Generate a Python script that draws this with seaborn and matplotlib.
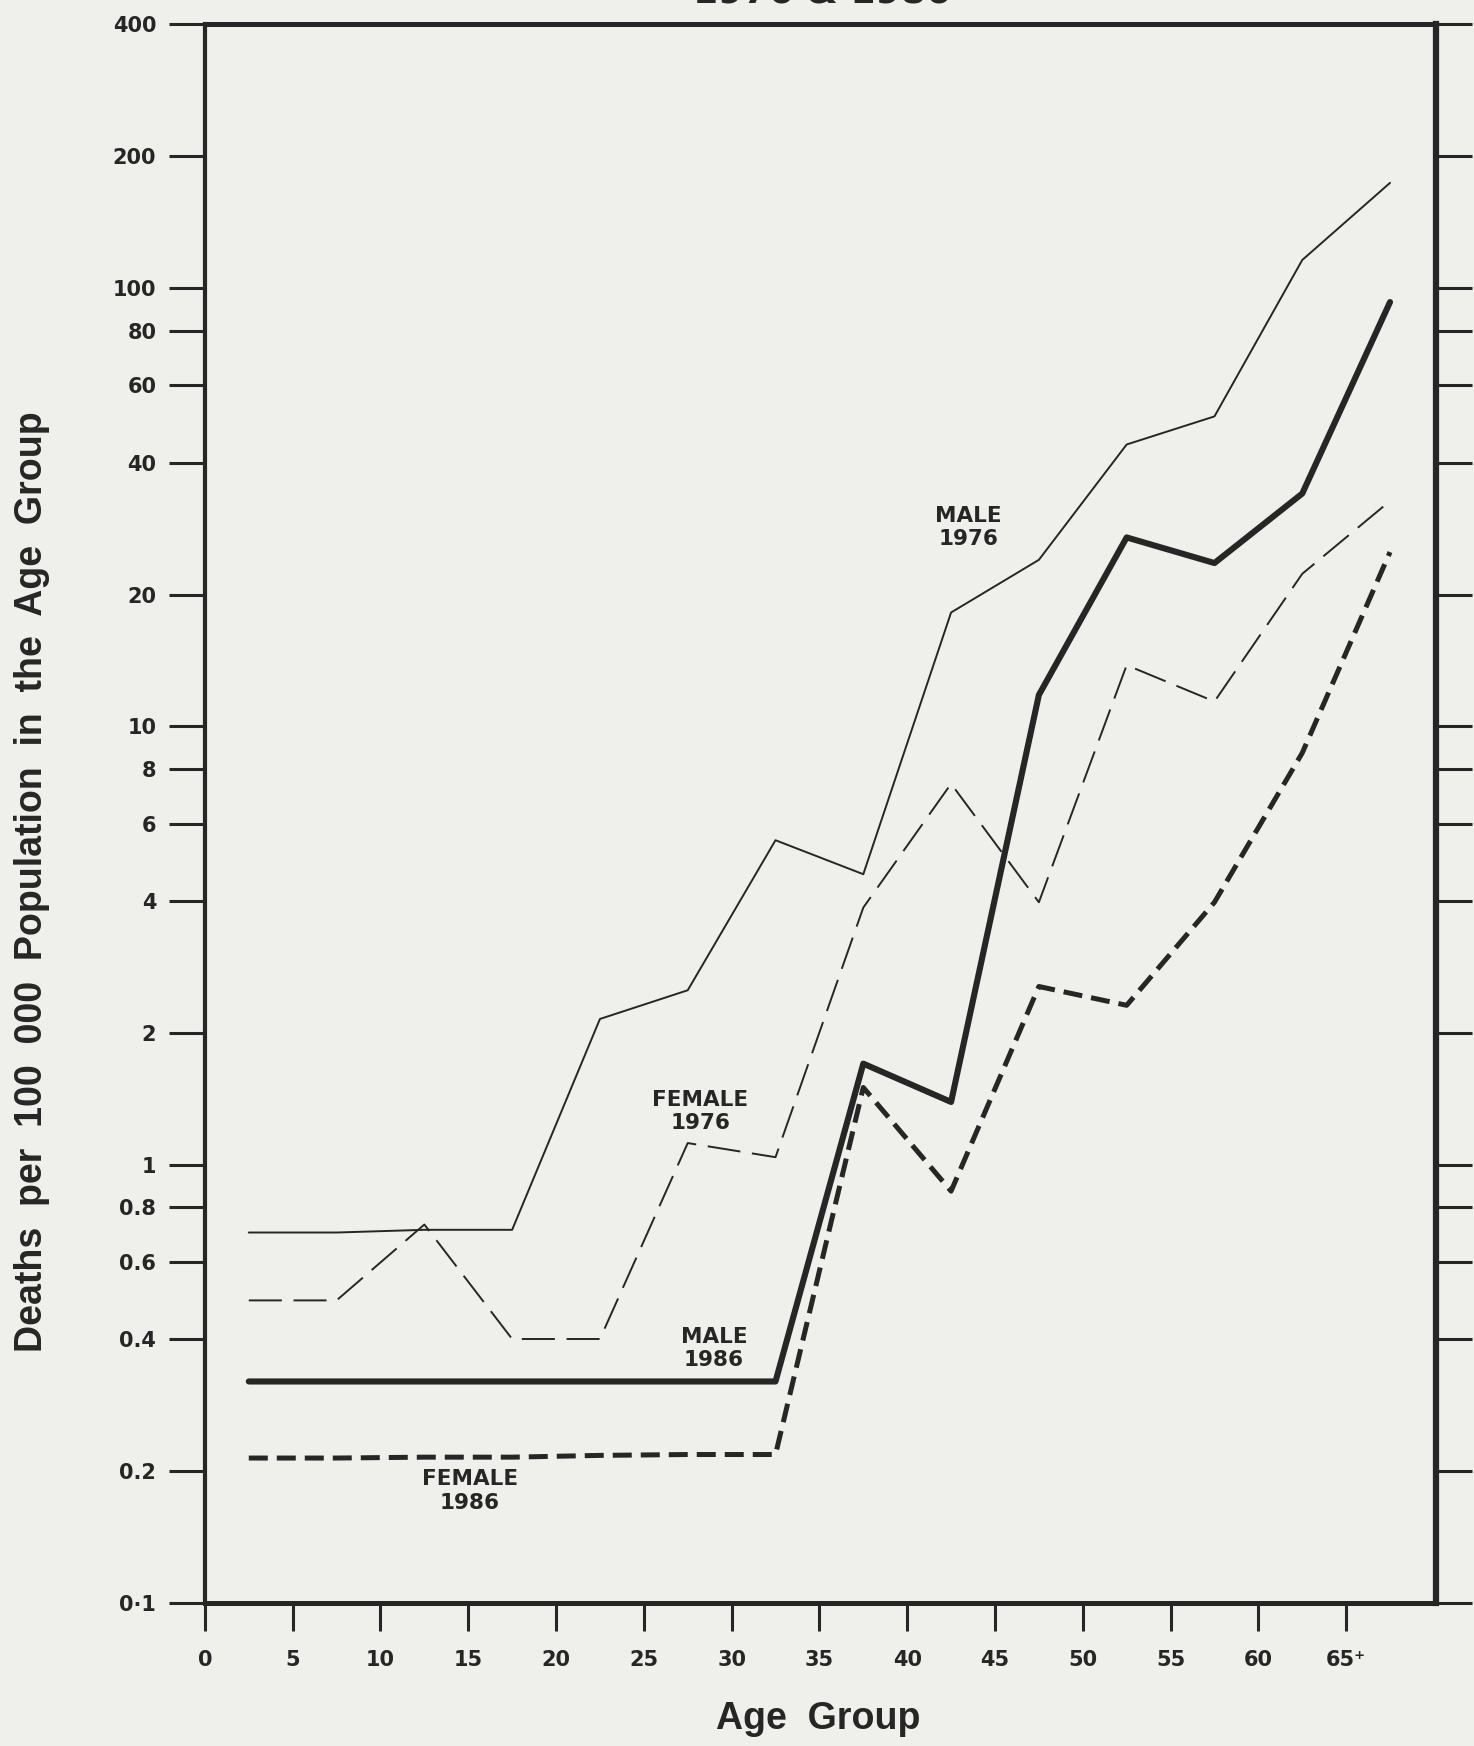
import numpy as np
import pandas as pd
import seaborn as sns
import matplotlib.pyplot as plt
from matplotlib.ticker import FixedLocator, NullLocator

# age groups plotted at mid-points of 5-year bands
age_mid = [2.5, 7.5, 12.5, 17.5, 22.5, 27.5, 32.5, 37.5, 42.5, 47.5, 52.5, 57.5, 62.5, 67.5]

male_1976 = [0.70, 0.70, 0.71, 0.71, 2.15, 2.5, 5.5, 4.6, 18.2, 24.0, 44, 51, 116, 174]
male_1986 = [0.32, 0.32, 0.32, 0.32, 0.32, 0.32, 0.32, 1.70, 1.39, 11.8, 27.0, 23.6, 34.0, 93]
female_1976 = [0.49, 0.49, 0.73, 0.40, 0.40, 1.12, 1.04, 3.86, 7.4, 3.97, 13.8, 11.4, 22.3, 32.7]
female_1986 = [0.214, 0.214, 0.215, 0.215, 0.217, 0.218, 0.218, 1.50, 0.87, 2.55, 2.31, 3.97, 8.7, 25.0]

y_ticks = [0.1, 0.2, 0.4, 0.6, 0.8, 1, 2, 4, 6, 8, 10, 20, 40, 60, 80, 100, 200, 400]
y_labels = ["0·1", "0.2", "0.4", "0.6", "0.8", "1", "2", "4", "6", "8", "10", "20", "40", "60", "80", "100", "200", "400"]
x_ticks = [0, 5, 10, 15, 20, 25, 30, 35, 40, 45, 50, 55, 60, 65]
x_labels = ["0", "5", "10", "15", "20", "25", "30", "35", "40", "45", "50", "55", "60", "65⁺"]

paper = "#efefeb"
ink = "#262626"

sns.set_style("white")
plt.rcParams['font.family'] = ['Liberation Sans', 'DejaVu Sans']

fig = plt.figure(figsize=(14.74, 17.46), dpi=100, facecolor=paper)
ax = fig.add_axes([0.139, 0.082, 0.835, 0.904])
ax.set_facecolor(paper)

sns.lineplot(x=age_mid, y=male_1976, ax=ax, color=ink, linewidth=1.4)
sns.lineplot(x=age_mid, y=male_1986, ax=ax, color=ink, linewidth=4.4)
sns.lineplot(x=age_mid, y=female_1976, ax=ax, color=ink, linewidth=1.4, dashes=False)
sns.lineplot(x=age_mid, y=female_1986, ax=ax, color=ink, linewidth=3.6, dashes=False)
ax.lines[2].set_dashes([17, 6])
ax.lines[3].set_dashes([3.8, 1.8])

ax.set_yscale("log")
ax.set_ylim(0.1, 400)
ax.set_xlim(0, 70.1)

ax.yaxis.set_major_locator(FixedLocator(y_ticks))
ax.yaxis.set_minor_locator(NullLocator())
ax.set_yticklabels(y_labels)
ax.xaxis.set_major_locator(FixedLocator(x_ticks))
ax.xaxis.set_minor_locator(NullLocator())
ax.set_xticklabels(x_labels)

ax.tick_params(axis='y', which='major', left=True, right=True, direction='out',
               length=26, width=2.2, color=ink, pad=9, labelsize=15, labelcolor=ink)
ax.tick_params(axis='x', which='major', bottom=True, direction='out',
               length=20, width=2.2, color=ink, pad=14, labelsize=15, labelcolor=ink)
for lab in ax.get_xticklabels() + ax.get_yticklabels():
    lab.set_fontweight('bold')
    lab.set_family('DejaVu Sans')

for side, w in [('left', 3.0), ('right', 4.5), ('top', 3.6), ('bottom', 3.6)]:
    ax.spines[side].set_visible(True)
    ax.spines[side].set_linewidth(w)
    ax.spines[side].set_color(ink)

ax.set_ylabel("Deaths  per  100  000  Population  in  the  Age  Group",
              fontsize=27, fontweight='bold', color=ink)
ax.yaxis.set_label_coords(-0.126, 0.457)
ax.set_xlabel("Age  Group", fontsize=27, fontweight='bold', color=ink)
ax.xaxis.set_label_coords(0.498, -0.062)

ann = dict(ha='center', va='center', fontsize=15.5, fontweight='bold', color=ink,
           linespacing=1.2, family='DejaVu Sans')
ax.text(43.5, 28.4, "MALE\n1976", **ann)
ax.text(28.2, 1.32, "FEMALE\n1976", **ann)
ax.text(29.0, 0.38, "MALE\n1986", **ann)
ax.text(15.1, 0.18, "FEMALE\n1986", **ann)

fig.text(0.558, 0.9985, "1976 & 1986", ha='center', va='baseline',
         fontsize=26, fontweight='bold', color=ink, family='DejaVu Sans')

fig.savefig("out.png", dpi=100, facecolor=paper)
